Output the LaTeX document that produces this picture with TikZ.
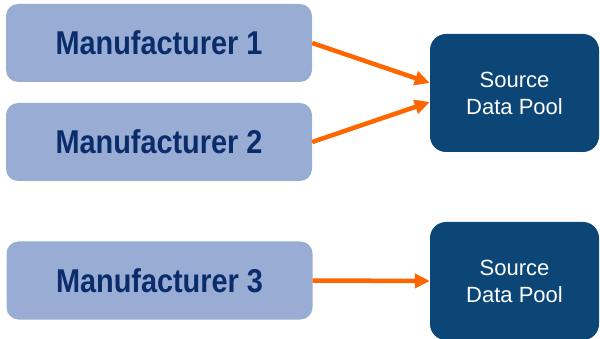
\documentclass[tikz,border=0pt]{standalone}
\usepackage{fontspec}
\setmainfont{Liberation Sans}
\newfontfamily\mfrfont[FakeStretch=0.875]{Liberation Sans}
\usetikzlibrary{arrows.meta}
\definecolor{mfrfill}{RGB}{153,172,212}
\definecolor{mfrtext}{RGB}{10,44,106}
\definecolor{poolfill}{RGB}{12,70,119}
\definecolor{feedorange}{RGB}{255,102,0}

\begin{document}
\begin{tikzpicture}[x=1pt, y=-1pt,
        mfrbox/.style={fill=mfrfill, rounded corners=12pt, inner sep=0pt,
            minimum width=306pt, minimum height=78pt, text=mfrtext,
            font=\mfrfont\bfseries\fontsize{33}{36}\selectfont},
        poolbox/.style={fill=poolfill, rounded corners=16pt, inner sep=0pt,
            minimum width=169pt, minimum height=118pt, text=white, align=center,
            font=\fontsize{22}{27}\selectfont},
        feed/.style={draw=feedorange, line width=4.5pt,
            -{Triangle[length=15pt, width=14pt]}}]
    \clip (0,0) rectangle (600,339);

    \node[mfrbox] (mfr1) at (159,43) {Manufacturer 1};
    \node[mfrbox] (mfr2) at (159,142) {Manufacturer 2};
    \node[mfrbox] (mfr3) at (159.5,280.5) {Manufacturer 3};

    \node[poolbox] (pool1) at (514.5,93) {Source\\Data Pool};
    \node[poolbox] (pool2) at (514.5,281) {Source\\Data Pool};

    \draw[feed] (mfr1.east) -- ([yshift=10pt]pool1.west);
    \draw[feed] (mfr2.east) -- ([yshift=-9pt]pool1.west);
    \draw[feed] (mfr3.east) -- (pool2.west);
\end{tikzpicture}
\end{document}
